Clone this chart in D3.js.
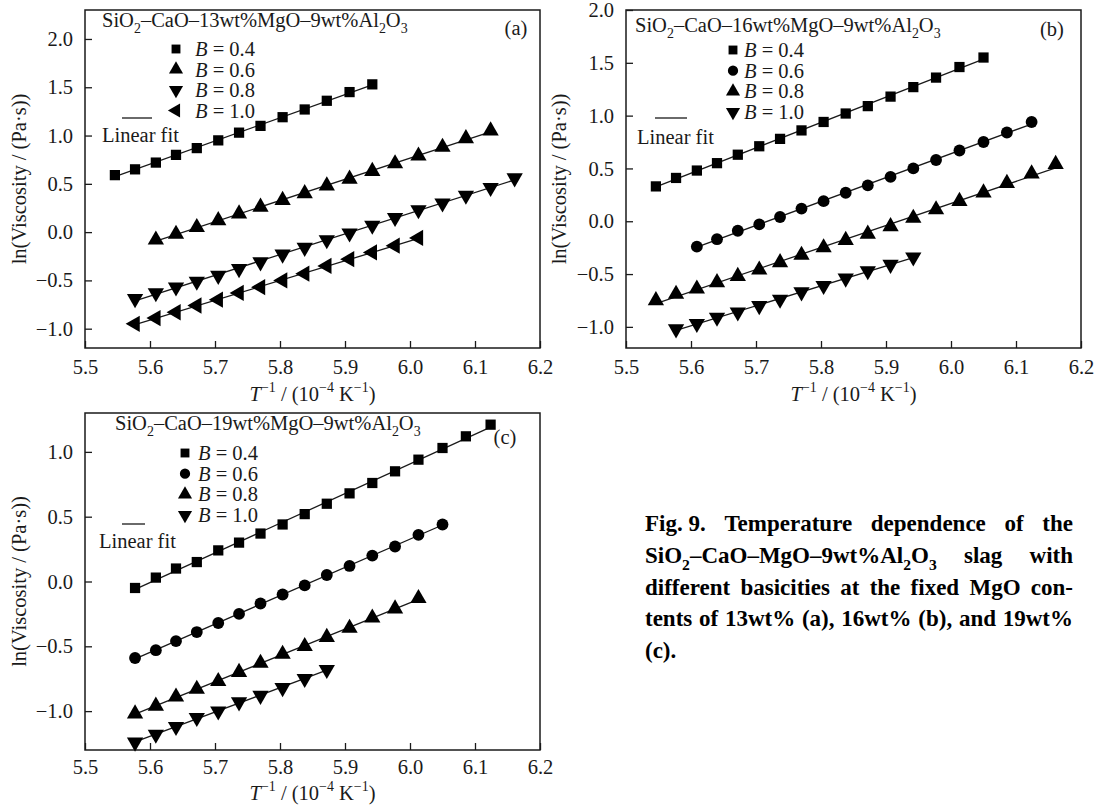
<!DOCTYPE html>
<html>
<head>
<meta charset="utf-8">
<script src="https://cdn.jsdelivr.net/npm/d3@7"></script>
<style>
  body { margin: 0; background: #fff; }
</style>
</head>
<body>
<script>

// tick labels shared by all three panels
var xTicks = [5.5, 5.6, 5.7, 5.8, 5.9, 6.0, 6.1, 6.2];
var yTicksAB = [-1.0, -0.5, 0.0, 0.5, 1.0, 1.5, 2.0];
var yTicksC = [-1.0, -0.5, 0.0, 0.5, 1.0];

var basicity = ["0.4", "0.6", "0.8", "1.0"];

// panel (a): 13wt% MgO   x = T^-1 (10^-4 K^-1), y = ln(viscosity)
var xA04 = [5.546, 5.577, 5.609, 5.640, 5.672, 5.705, 5.737, 5.770, 5.804, 5.838, 5.872, 5.907, 5.942];
var yA04 = [0.59, 0.65, 0.72, 0.80, 0.87, 0.95, 1.03, 1.10, 1.19, 1.27, 1.36, 1.45, 1.53];
var xA06 = [5.609, 5.640, 5.672, 5.705, 5.737, 5.770, 5.804, 5.838, 5.872, 5.907, 5.942, 5.977, 6.013, 6.050, 6.086, 6.124];
var yA06 = [-0.08, -0.02, 0.05, 0.12, 0.19, 0.26, 0.33, 0.40, 0.48, 0.55, 0.63, 0.71, 0.79, 0.88, 0.97, 1.05];
var xA08 = [5.577, 5.609, 5.640, 5.672, 5.705, 5.737, 5.770, 5.804, 5.838, 5.872, 5.907, 5.942, 5.977, 6.013, 6.050, 6.086, 6.124, 6.161];
var yA08 = [-0.69, -0.63, -0.57, -0.51, -0.45, -0.38, -0.31, -0.23, -0.16, -0.08, -0.01, 0.07, 0.15, 0.23, 0.30, 0.38, 0.46, 0.56];
var xA10 = [5.577, 5.609, 5.640, 5.672, 5.705, 5.737, 5.770, 5.804, 5.838, 5.872, 5.907, 5.942, 5.977, 6.013];
var yA10 = [-0.95, -0.89, -0.83, -0.76, -0.70, -0.63, -0.57, -0.50, -0.43, -0.35, -0.28, -0.21, -0.14, -0.06];

// panel (b): 16wt% MgO
var xB04 = [5.546, 5.577, 5.609, 5.640, 5.672, 5.705, 5.737, 5.770, 5.804, 5.838, 5.872, 5.907, 5.942, 5.977, 6.013, 6.050];
var yB04 = [0.33, 0.41, 0.48, 0.55, 0.63, 0.71, 0.78, 0.86, 0.94, 1.02, 1.09, 1.18, 1.27, 1.36, 1.46, 1.55];
var xB06 = [5.609, 5.640, 5.672, 5.705, 5.737, 5.770, 5.804, 5.838, 5.872, 5.907, 5.942, 5.977, 6.013, 6.050, 6.086, 6.124];
var yB06 = [-0.24, -0.17, -0.09, -0.03, 0.04, 0.12, 0.19, 0.27, 0.34, 0.42, 0.50, 0.58, 0.67, 0.75, 0.84, 0.94];
var xB08 = [5.546, 5.577, 5.609, 5.640, 5.672, 5.705, 5.737, 5.770, 5.804, 5.838, 5.872, 5.907, 5.942, 5.977, 6.013, 6.050, 6.086, 6.124, 6.161];
var yB08 = [-0.75, -0.69, -0.64, -0.58, -0.52, -0.46, -0.39, -0.32, -0.25, -0.18, -0.12, -0.05, 0.03, 0.11, 0.19, 0.27, 0.36, 0.45, 0.54];
var xB10 = [5.577, 5.609, 5.640, 5.672, 5.705, 5.737, 5.770, 5.804, 5.838, 5.872, 5.907, 5.942];
var yB10 = [-1.02, -0.97, -0.91, -0.86, -0.80, -0.74, -0.67, -0.61, -0.54, -0.47, -0.41, -0.34];

// panel (c): 19wt% MgO
var xC04 = [5.577, 5.609, 5.640, 5.672, 5.705, 5.737, 5.770, 5.804, 5.838, 5.872, 5.907, 5.942, 5.977, 6.013, 6.050, 6.086, 6.124];
var yC04 = [-0.05, 0.03, 0.10, 0.15, 0.24, 0.30, 0.37, 0.44, 0.52, 0.60, 0.68, 0.76, 0.85, 0.94, 1.03, 1.12, 1.21];
var xC06 = [5.577, 5.609, 5.640, 5.672, 5.705, 5.737, 5.770, 5.804, 5.838, 5.872, 5.907, 5.942, 5.977, 6.013, 6.050];
var yC06 = [-0.59, -0.53, -0.46, -0.39, -0.32, -0.25, -0.17, -0.10, -0.03, 0.05, 0.12, 0.20, 0.27, 0.36, 0.44];
var xC08 = [5.577, 5.609, 5.640, 5.672, 5.705, 5.737, 5.770, 5.804, 5.838, 5.872, 5.907, 5.942, 5.977, 6.013];
var yC08 = [-1.02, -0.96, -0.89, -0.83, -0.77, -0.70, -0.63, -0.56, -0.50, -0.43, -0.36, -0.28, -0.21, -0.13];
var xC10 = [5.577, 5.609, 5.640, 5.672, 5.705, 5.737, 5.770, 5.804, 5.838, 5.872];
var yC10 = [-1.24, -1.18, -1.12, -1.05, -1.00, -0.93, -0.88, -0.82, -0.75, -0.68];


var W = 1096, H = 807;
var serif = "'Liberation Serif', 'Times New Roman', Times, serif";
var ink = "#1a1a1a";
var fs = 20.5;

var svg = d3.select("body").append("svg")
    .attr("width", W)
    .attr("height", H)
    .style("display", "block")
    .style("font-family", serif);

svg.append("rect").attr("width", W).attr("height", H).attr("fill", "#fff");

// marker shapes: symbol + rotation
var shapes = {
    square: { type: d3.symbolSquare, size: 105, rot: 0 },
    circle: { type: d3.symbolCircle, size: 110, rot: 0 },
    up:     { type: d3.symbolTriangle, size: 115, rot: 0 },
    down:   { type: d3.symbolTriangle, size: 115, rot: 180 },
    left:   { type: d3.symbolTriangle, size: 115, rot: -90 }
};

// append text made of segments: [text, style] with style "sub", "sup", "i" or none
function addSegs(t, segs, size) {
    var shift = 0;
    segs.forEach(function (s) {
        var ts = t.append("tspan").text(s[0]);
        var want = 0;
        if (s[1] === "sub") { want = 0.3 * size; ts.attr("font-size", 0.68 * size); }
        if (s[1] === "sup") { want = -0.42 * size; ts.attr("font-size", 0.68 * size); }
        if (s[1] === "i") ts.attr("font-style", "italic");
        if (want !== shift) { ts.attr("dy", want - shift); shift = want; }
    });
    return t;
}

function fitLine(xs, ys) {
    var mx = d3.mean(xs), my = d3.mean(ys);
    var sxy = d3.sum(xs, function (v, i) { return (v - mx) * (ys[i] - my); });
    var sxx = d3.sum(xs, function (v) { return (v - mx) * (v - mx); });
    var k = sxy / sxx;
    return function (v) { return my + k * (v - mx); };
}

function drawPanel(p) {
    var g = svg.append("g");

    var x = d3.scaleLinear().domain([5.5, 6.2]).range([p.left, p.right]);
    var y = d3.scaleLinear().domain(p.yDomain).range([p.bottom, p.top]);

    // x axis, ticks pointing inward
    var xAxis = g.append("g")
        .attr("transform", "translate(0," + p.bottom + ")")
        .call(d3.axisBottom(x).tickValues(xTicks).tickFormat(d3.format(".1f"))
            .tickSizeInner(-7).tickSizeOuter(0).tickPadding(p.xPad));
    // y axis
    var yAxis = g.append("g")
        .attr("transform", "translate(" + p.left + ",0)")
        .call(d3.axisLeft(y).tickValues(p.yTicks).tickFormat(d3.format(".1f"))
            .tickSizeInner(-7).tickSizeOuter(0).tickPadding(12));

    [xAxis, yAxis].forEach(function (a) {
        a.select(".domain").remove();
        a.attr("font-family", serif).attr("font-size", fs);
        a.selectAll("line").attr("stroke", ink).attr("stroke-width", 1.3);
        a.selectAll("text").attr("fill", ink);
    });

    // frame
    g.append("rect")
        .attr("x", p.left).attr("y", p.top)
        .attr("width", p.right - p.left).attr("height", p.bottom - p.top)
        .attr("fill", "none").attr("stroke", ink).attr("stroke-width", 1.5);

    // axis titles
    var xt = g.append("text")
        .attr("x", (p.left + p.right) / 2).attr("y", p.bottom + p.xTitleDy)
        .attr("text-anchor", "middle")
        .attr("font-size", fs).attr("fill", ink);
    addSegs(xt, [["T", "i"], ["\u22121", "sup"], [" / (10"], ["\u22124", "sup"], [" K"], ["\u22121", "sup"], [")"]], fs);

    g.append("text")
        .attr("transform", "translate(" + p.yTitleX + "," + ((p.top + p.bottom) / 2) + ") rotate(-90)")
        .attr("text-anchor", "middle")
        .attr("font-size", fs).attr("fill", ink)
        .text("ln(Viscosity / (Pa\u00b7s))");

    // fit lines then markers
    p.series.forEach(function (s) {
        var f = fitLine(s.x, s.y);
        var x0 = d3.min(s.x), x1 = d3.max(s.x);
        g.append("line")
            .attr("x1", x(x0)).attr("y1", y(f(x0)))
            .attr("x2", x(x1)).attr("y2", y(f(x1)))
            .attr("stroke", ink).attr("stroke-width", 1.3);
    });
    p.series.forEach(function (s) {
        var sh = shapes[s.shape];
        var sym = d3.symbol().type(sh.type).size(sh.size);
        g.selectAll(null)
            .data(s.x.map(function (v, i) { return [v, s.y[i]]; }))
            .enter().append("path")
            .attr("d", sym)
            .attr("transform", function (d) {
                return "translate(" + x(d[0]) + "," + y(d[1]) + ") rotate(" + sh.rot + ")";
            })
            .attr("fill", "#000");
    });

    // legend
    var L = p.legend;
    var tt = g.append("text")
        .attr("x", p.left + L.titleX).attr("y", p.top + L.titleY)
        .attr("font-size", fs).attr("fill", ink);
    addSegs(tt, [["SiO"], ["2", "sub"], ["\u2013CaO\u2013" + p.mgo + "wt%MgO\u20139wt%Al"], ["2", "sub"], ["O"], ["3", "sub"]], fs);

    p.series.forEach(function (s, i) {
        var sh = shapes[s.shape];
        var cy = p.top + L.rowY + i * L.rowGap;
        g.append("path")
            .attr("d", d3.symbol().type(sh.type).size(sh.size * 0.75))
            .attr("transform", "translate(" + (p.left + L.markX) + "," + cy + ") rotate(" + sh.rot + ")")
            .attr("fill", "#000");
        var lt = g.append("text")
            .attr("x", p.left + L.labelX).attr("y", cy + 7)
            .attr("font-size", fs).attr("fill", ink);
        addSegs(lt, [["B", "i"], [" = " + basicity[i]]], fs);
    });

    g.append("line")
        .attr("x1", p.left + L.lineX0).attr("x2", p.left + L.lineX1)
        .attr("y1", p.top + L.lineY).attr("y2", p.top + L.lineY)
        .attr("stroke", ink).attr("stroke-width", 1.3);
    g.append("text")
        .attr("x", p.left + L.fitX).attr("y", p.top + L.fitY)
        .attr("font-size", fs).attr("fill", ink)
        .text("Linear fit");

    g.append("text")
        .attr("x", p.right + p.tag[0]).attr("y", p.top + p.tag[1])
        .attr("text-anchor", "middle")
        .attr("font-size", fs).attr("fill", ink)
        .text(p.name);
}

drawPanel({
    name: "(a)", mgo: "13",
    left: 85, right: 540, top: 10, bottom: 348,
    yDomain: [-1.2, 2.3], yTicks: yTicksAB, yTitleX: 26, xPad: 11, xTitleDy: 53,
    tag: [-24, 25],
    legend: { titleX: 17, titleY: 17, markX: 91, labelX: 110, rowY: 39, rowGap: 20.5,
              lineX0: 37, lineX1: 67, lineY: 108, fitX: 17, fitY: 132 },
    series: [
        { x: xA04, y: yA04, shape: "square" },
        { x: xA06, y: yA06, shape: "up" },
        { x: xA08, y: yA08, shape: "down" },
        { x: xA10, y: yA10, shape: "left" }
    ]
});

drawPanel({
    name: "(b)", mgo: "16",
    left: 626, right: 1081, top: 10, bottom: 348,
    yDomain: [-1.2, 2.0], yTicks: yTicksAB, yTitleX: 566, xPad: 11, xTitleDy: 53,
    tag: [-29, 26],
    legend: { titleX: 9, titleY: 22, markX: 107, labelX: 118, rowY: 40, rowGap: 20.7,
              lineX0: 29, lineX1: 61, lineY: 108, fitX: 11, fitY: 134 },
    series: [
        { x: xB04, y: yB04, shape: "square" },
        { x: xB06, y: yB06, shape: "circle" },
        { x: xB08, y: yB08, shape: "up" },
        { x: xB10, y: yB10, shape: "down" }
    ]
});

drawPanel({
    name: "(c)", mgo: "19",
    left: 85, right: 540, top: 413, bottom: 750,
    yDomain: [-1.3, 1.3], yTicks: yTicksC, yTitleX: 26, xPad: 9, xTitleDy: 50,
    tag: [-35, 31],
    legend: { titleX: 30, titleY: 17, markX: 100, labelX: 113, rowY: 40, rowGap: 20.7,
              lineX0: 37, lineX1: 60, lineY: 111, fitX: 14, fitY: 135 },
    series: [
        { x: xC04, y: yC04, shape: "square" },
        { x: xC06, y: yC06, shape: "circle" },
        { x: xC08, y: yC08, shape: "up" },
        { x: xC10, y: yC10, shape: "down" }
    ]
});

// figure caption, justified
var capLines = [
    [[["Fig. 9."]], [["Temperature"]], [["dependence"]], [["of"]], [["the"]]],
    [[["SiO"], ["2", "sub"], ["\u2013CaO\u2013MgO\u20139wt%Al"], ["2", "sub"], ["O"], ["3", "sub"]], [["slag"]], [["with"]]],
    [[["different"]], [["basicities"]], [["at"]], [["the"]], [["fixed"]], [["MgO"]], [["con-"]]],
    [[["tents"]], [["of"]], [["13wt%"]], [["(a),"]], [["16wt%"]], [["(b),"]], [["and"]], [["19wt%"]]],
    [[["(c)."]]]
];
var capX = 645, capW = 428, capY = 531, capLead = 31.8, capFs = 23;
var cap = svg.append("g")
    .attr("font-size", capFs)
    .attr("font-weight", "bold").attr("fill", "#000");

capLines.forEach(function (words, li) {
    var yy = capY + li * capLead;
    var nodes = words.map(function (w) {
        return addSegs(cap.append("text").attr("y", yy), w, capFs);
    });
    var widths = nodes.map(function (n) { return n.node().getComputedTextLength(); });
    var justify = li < capLines.length - 1 && words.length > 1;
    var gap = justify ? (capW - d3.sum(widths)) / (words.length - 1) : capFs * 0.25;
    var cx = capX;
    nodes.forEach(function (n, i) {
        n.attr("x", cx);
        cx += widths[i] + gap;
    });
});

</script>
</body>
</html>
